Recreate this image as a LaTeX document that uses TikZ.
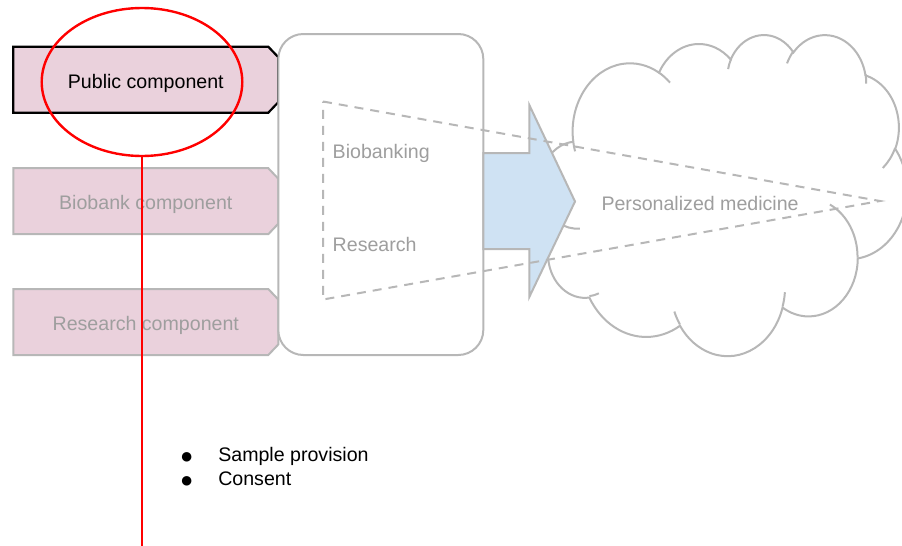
\documentclass[tikz,border=0pt]{standalone}
\usepackage{fontspec}
\setmainfont{Liberation Sans}
\usetikzlibrary{shapes.geometric}
\pgfdeclarelayer{back}
\pgfsetlayers{back,main}

\definecolor{pinkfill}{HTML}{EAD1DC}
\definecolor{bluefill}{HTML}{CFE2F3}
\definecolor{lineg}{HTML}{B7B7B7}
\definecolor{textg}{HTML}{9E9E9E}

% Parametric start/end angles of an elliptic arc given by its visual
% start angle and sweep (cloud outline): #1 key, #2 x radius, #3 y radius,
% #4 start angle, #5 sweep (degrees).
\newcommand\cldang[5]{%
  \pgfmathsetmacro\cldtmpS{atan2((#2)*sin(#4),(#3)*cos(#4))}%
  \pgfmathsetmacro\cldtmpE{atan2((#2)*sin((#4)+(#5)),(#3)*cos((#4)+(#5)))}%
  \pgfmathsetmacro\cldtmpE{\cldtmpS+Mod(\cldtmpE-\cldtmpS,360)}%
  \expandafter\let\csname cldS#1\endcsname\cldtmpS
  \expandafter\let\csname cldE#1\endcsname\cldtmpE
}

% Outline of a component box with its right-hand corners cut off.
\newcommand\snipbox[2]{%
  \path[#2] (#1.north west) -- ([xshift=-10pt]#1.north east)
    -- ([yshift=-10.5pt]#1.north east) -- ([yshift=10.5pt]#1.south east)
    -- ([xshift=-10pt]#1.south east) -- (#1.south west) -- cycle;}

\newcommand\bulletsym{\raisebox{-1.5pt}{\fontsize{22}{22}\selectfont ●}}

\begin{document}
\begin{tikzpicture}[x=1pt,y=-1pt,
  every node/.style={inner sep=0pt, outer sep=0pt, font=\fontsize{19.6}{24}\selectfont},
  comp/.style={rectangle, minimum width=265pt, minimum height=66pt,
    text height=17pt, text depth=0pt, text=textg},
  greyline/.style={draw=lineg, line width=2pt},
  label/.style={anchor=base west, text=textg},
  dashline/.style={draw=lineg, line width=2pt, dash pattern=on 9pt off 7pt}]
\useasboundingbox (0,0) rectangle (902,546);

% rounded frame holding the two activities
\node[greyline, fill=white, rounded corners=25pt,
  minimum width=205pt, minimum height=321pt] (core) at (380.8,194.5) {};

% components
\node[comp, text=black] (pub) at (145.8,79.7) {Public component};
\node[comp] (bio) at (145.8,201.2) {Biobank component};
\node[comp] (res) at (145.8,322) {Research component};
\begin{pgfonlayer}{back}
  \snipbox{pub}{draw=black, line width=2.2pt, fill=pinkfill}
  \snipbox{bio}{greyline, fill=pinkfill}
  \snipbox{res}{greyline, fill=pinkfill}
\end{pgfonlayer}

% cloud arcs
\cldang{a}{67.53}{91.90}{-190.4875}{123.7805}
\cldang{b}{53.33}{72.67}{-144.1024}{89.9452}
\cldang{c}{43.65}{59.45}{-145.8079}{99.7230}
\cldang{d}{48.57}{65.95}{-130.9861}{117.2417}
\cldang{e}{53.33}{72.73}{-78.7089}{109.0269}
\cldang{f}{67.75}{92.20}{-46.2673}{130.2690}
\cldang{g}{57.85}{78.67}{0.6250}{114.0333}
\cldang{h}{67.52}{92.15}{22.4516}{115.1726}
\cldang{i}{77.20}{105.43}{66.2426}{75.7110}
\cldang{j}{43.60}{59.18}{-274.9421}{146.7356}
\cldang{k}{43.45}{59.45}{-246.8285}{152.5189}
\cldang{m}{43.45}{59.45}{86.7420}{26.4295}
\cldang{n}{43.60}{59.18}{73.6105}{11.4475}
\cldang{o}{67.52}{92.15}{137.6242}{14.0811}
\cldang{p}{67.52}{92.15}{6.4533}{15.9984}
\cldang{q}{57.85}{78.67}{-70.2924}{70.9174}
\cldang{r}{53.33}{72.73}{30.3180}{27.7515}
\cldang{s}{48.57}{65.95}{-13.7443}{14.8589}
\cldang{t}{48.57}{65.95}{-149.1815}{18.1954}
\cldang{u}{43.65}{59.45}{-163.4943}{17.6864}
\cldang{v}{67.53}{91.90}{-66.7070}{12.3194}
\cldang{w}{67.53}{91.90}{157.6544}{11.8582}

\begin{scope}[shift={(540,34)}, x=0.8495pt, y=-0.7431pt]
  \draw[greyline, fill=white] (39.00,143.70)
    arc[x radius=67.53, y radius=91.90, start angle=\cldSa, end angle=\cldEa]
    arc[x radius=53.33, y radius=72.67, start angle=\cldSb, end angle=\cldEb]
    arc[x radius=43.65, y radius=59.45, start angle=\cldSc, end angle=\cldEc]
    arc[x radius=48.57, y radius=65.95, start angle=\cldSd, end angle=\cldEd]
    arc[x radius=53.33, y radius=72.73, start angle=\cldSe, end angle=\cldEe]
    arc[x radius=67.75, y radius=92.20, start angle=\cldSf, end angle=\cldEf]
    arc[x radius=57.85, y radius=78.67, start angle=\cldSg, end angle=\cldEg]
    arc[x radius=67.52, y radius=92.15, start angle=\cldSh, end angle=\cldEh]
    arc[x radius=77.20, y radius=105.43, start angle=\cldSi, end angle=\cldEi]
    arc[x radius=43.60, y radius=59.18, start angle=\cldSj, end angle=\cldEj]
    arc[x radius=43.45, y radius=59.45, start angle=\cldSk, end angle=\cldEk]
    -- cycle;
  \draw[greyline]
    (46.93,261.77) arc[x radius=43.45, y radius=59.45, start angle=\cldSm, end angle=\cldEm]
    (69.28,348.99) arc[x radius=43.60, y radius=59.18, start angle=\cldSn, end angle=\cldEn]
    (164.78,390.90) arc[x radius=67.52, y radius=92.15, start angle=\cldSo, end angle=\cldEo]
    (288.27,347.51) arc[x radius=67.52, y radius=92.15, start angle=\cldSp, end angle=\cldEp]
    (341.29,229.54) arc[x radius=57.85, y radius=78.67, start angle=\cldSq, end angle=\cldEq]
    (417.98,153.54) arc[x radius=53.33, y radius=72.73, start angle=\cldSr, end angle=\cldEr]
    (383.24,54.26) arc[x radius=48.57, y radius=65.95, start angle=\cldSs, end angle=\cldEs]
    (290.78,39.52) arc[x radius=48.57, y radius=65.95, start angle=\cldSt, end angle=\cldEt]
    (221.41,47.20) arc[x radius=43.65, y radius=59.45, start angle=\cldSu, end angle=\cldEu]
    (140.00,51.92) arc[x radius=67.53, y radius=91.90, start angle=\cldSv, end angle=\cldEv]
    (41.27,157.89) arc[x radius=67.53, y radius=91.90, start angle=\cldSw, end angle=\cldEw];
\end{scope}

% block arrow into the cloud
\draw[greyline, fill=bluefill] (483.3,153) -- (529.3,153) -- (529.3,105)
  -- (575,201.5) -- (529.3,297) -- (529.3,249) -- (483.3,249) -- cycle;

% dashed funnel
\coordinate (tA) at (323,101.5);
\coordinate (tB) at (880,201);
\coordinate (tC) at (323,299.5);
\draw[dashline] (tA) -- (tB) -- (tC) -- cycle;

% labels
\node[label] (lbank) at (332.7,158.3) {Biobanking};
\node[label] (lres) at (332.7,251.7) {Research};
\node[label] (lmed) at (601.5,210) {Personalized medicine};

% bullet list
\node[anchor=base west] (bl1) at (180,461.7) {\makebox[38.3pt][l]{\bulletsym}Sample provision};
\node[anchor=base west] (bl2) at (180,485.5) {\makebox[38.3pt][l]{\bulletsym}Consent};

% highlight ring and its pointer
\node[draw=red, line width=2.4pt, ellipse, minimum width=200.6pt,
  minimum height=148pt] (ring) at (142,82) {};
\coordinate (ringend) at (142,548);
\draw[red, line width=2.4pt] (ring.south) -- (ringend);
\end{tikzpicture}
\end{document}
